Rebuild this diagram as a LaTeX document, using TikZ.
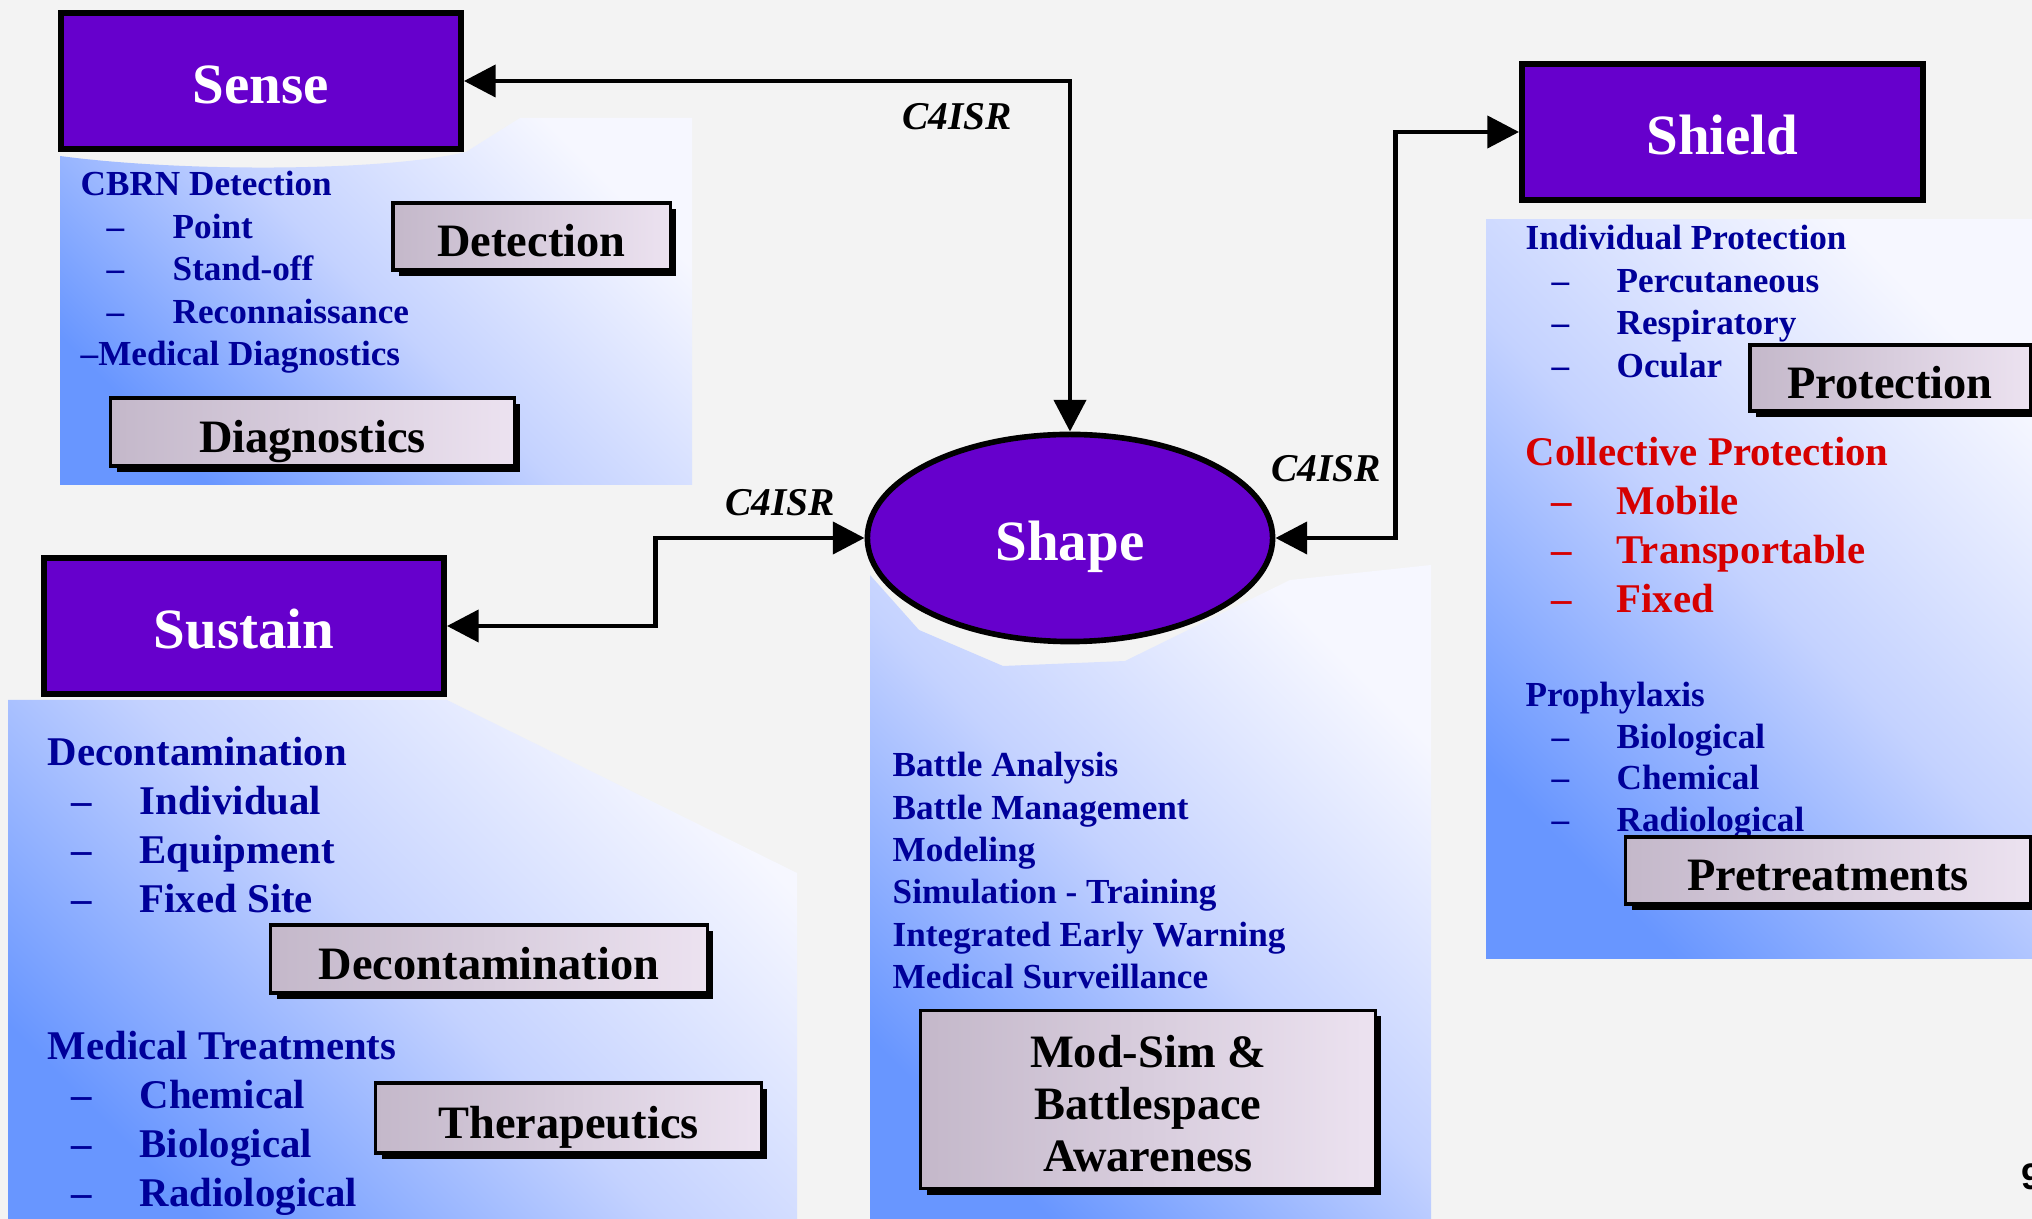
\documentclass[tikz,border=0pt]{standalone}
\usepackage{fontspec}
\setmainfont{Liberation Serif}
\newfontfamily\pagefont{Liberation Sans}
\usetikzlibrary{arrows.meta,shapes.geometric,shadows}

\definecolor{boxpurple}{RGB}{102,0,204}
\definecolor{listblue}{RGB}{0,0,153}
\definecolor{listred}{RGB}{214,0,0}
\definecolor{panelblue}{RGB}{104,150,255}
\definecolor{panelmid}{RGB}{196,210,255}
\definecolor{panelwhite}{RGB}{246,247,255}
\definecolor{lavdark}{RGB}{196,184,202}
\definecolor{lavlight}{RGB}{236,226,240}
\definecolor{paper}{RGB}{243,243,243}

\newcommand{\headfont}{\fontsize{16.2}{19}\selectfont\bfseries}
\newcommand{\labelfont}{\fontsize{13.2}{14.7}\selectfont\bfseries}
\newcommand{\listfont}{\fontsize{10}{12}\selectfont\bfseries}
\newcommand{\bigfont}{\fontsize{11.6}{13.9}\selectfont\bfseries}
\newcommand{\linkfont}{\fontsize{11.2}{13}\selectfont\bfseries\itshape}

\tikzset{
  mainbox/.style={draw=black, line width=1.6pt, fill=boxpurple, text=white, font=\headfont,
    text height=12.6pt, text depth=0pt},
  panel/.style={top color=panelblue, bottom color=panelwhite, middle color=panelmid, shading angle=135},
  tagbase/.style={draw=black, line width=0.9pt, left color=lavdark, right color=lavlight, font=\labelfont,
    drop shadow={shadow xshift=0.06cm, shadow yshift=-0.06cm, fill=black, opacity=1}},
  tagbox/.style={tagbase, text height=11.4pt, text depth=0pt},
  listtxt/.style={inner sep=0pt, anchor=base west, text=listblue, font=\listfont},
  bigtxt/.style={listtxt, font=\bigfont},
  redtxt/.style={bigtxt, text=listred},
  link/.style={line width=1.4pt, {Triangle[length=9pt,width=9pt]}-{Triangle[length=9pt,width=9pt]}},
  linklabel/.style={font=\linkfont, inner sep=0pt}
}

\begin{document}
\begin{tikzpicture}[x=0.01cm, y=-0.01cm]
\useasboundingbox (0,0) rectangle (2032,1219);
\fill[paper] (0,0) rectangle (2032,1219);

% shaded panels behind the boxes
\shade[panel] (60,156) .. controls (180,172) and (380,172) .. (466,152) -- (520,118) -- (692,118) -- (692,485) -- (60,485) -- cycle;
\shade[panel] (1486,220) rectangle (2032,959);
\shade[panel] (870,575) -- (919,630) -- (1003,666) -- (1125,661) -- (1290,580) -- (1431,565) -- (1431,1219) -- (870,1219) -- cycle;
\shade[panel] (8,700) -- (447,700) -- (797,873) -- (797,1219) -- (8,1219) -- cycle;

% main boxes
\node[mainbox, minimum width=4.00cm, minimum height=1.36cm] (sense) at (261,81) {Sense};
\node[mainbox, minimum width=4.01cm, minimum height=1.36cm] (shield) at (1722.5,132) {Shield};
\node[mainbox, minimum width=4.00cm, minimum height=1.36cm] (sustain) at (244,626) {Sustain};
\node[mainbox, ellipse, minimum width=4.05cm, minimum height=2.07cm] (hub) at (1070,538) {Shape};

% C4ISR links
\draw[link] (hub.north) |- (sense.east);
\draw[link] (hub.east) -- ++(120,0) |- (shield.west);
\draw[link] (hub.west) -- ++(-209,0) |- (sustain.east);
\node[linklabel] (c4top) at (957,117) {C4ISR};
\node[linklabel] (c4right) at (1326,469) {C4ISR};
\node[linklabel] (c4left) at (780,503) {C4ISR};

% Sense
\node[listtxt] (cbrn) at (80,196) {CBRN Detection};
\foreach \txt [count=\i] in {Point,Stand-off,Reconnaissance} {
  \node[listtxt] (sdash\i) at (106,{196+42.5*\i}) {\textendash};
  \node[listtxt] (sitem\i) at (172,{196+42.5*\i}) {\txt};
}
\node[listtxt] (meddiag) at (80,366) {\textendash Medical Diagnostics};
\node[tagbox, minimum width=2.77cm, minimum height=0.67cm] (detect) at (531.5,236.5) {Detection};
\node[tagbox, minimum width=4.03cm, minimum height=0.68cm] (diag) at (312.5,432) {Diagnostics};

% Shield
\node[listtxt] (indiv) at (1525,250) {Individual Protection};
\foreach \txt [count=\i] in {Percutaneous,Respiratory,Ocular} {
  \node[listtxt] (idash\i) at (1551,{250+42.4*\i}) {\textendash};
  \node[listtxt] (iitem\i) at (1616,{250+42.4*\i}) {\txt};
}
\node[redtxt] (collect) at (1525,466) {Collective Protection};
\foreach \txt [count=\i] in {Mobile,Transportable,Fixed} {
  \node[redtxt] (cdash\i) at (1551,{466+49*\i}) {\textendash};
  \node[redtxt] (citem\i) at (1616,{466+49*\i}) {\txt};
}
\node[listtxt] (prophy) at (1525,707) {Prophylaxis};
\foreach \txt [count=\i] in {Biological,Chemical,Radiological} {
  \node[listtxt] (pdash\i) at (1551,{707+41.5*\i}) {\textendash};
  \node[listtxt] (pitem\i) at (1616,{707+41.5*\i}) {\txt};
}
\node[tagbox, minimum width=2.80cm, minimum height=0.66cm] (protect) at (1890,378) {Protection};
\node[tagbox, minimum width=4.04cm, minimum height=0.67cm] (pretreat) at (1828,870.5) {Pretreatments};

% Shape
\foreach \txt [count=\i from 0] in {Battle Analysis,Battle Management,Modeling,Simulation - Training,Integrated Early Warning,Medical Surveillance}
  \node[listtxt] (shline\i) at (892,{777+42.3*\i}) {\txt};
\node[tagbase, minimum width=4.54cm, minimum height=1.73cm] (modsim) at (1148,1099.5)
  {\raisebox{-2.7pt}[\height][\depth]{\begin{tabular}{@{}c@{}}Mod-Sim \&\\Battlespace\\Awareness\end{tabular}}};

% Sustain
\node[bigtxt] (decohead) at (47,766) {Decontamination};
\foreach \txt [count=\i] in {Individual,Equipment,Fixed Site} {
  \node[bigtxt] (ddash\i) at (71,{766+49*\i}) {\textendash};
  \node[bigtxt] (ditem\i) at (139,{766+49*\i}) {\txt};
}
\node[bigtxt] (medtreat) at (47,1060) {Medical Treatments};
\foreach \txt [count=\i] in {Chemical,Biological,Radiological} {
  \node[bigtxt] (mdash\i) at (71,{1060+49*\i}) {\textendash};
  \node[bigtxt] (mitem\i) at (139,{1060+49*\i}) {\txt};
}
\node[tagbox, minimum width=4.36cm, minimum height=0.68cm] (decon) at (489,959) {Decontamination};
\node[tagbox, minimum width=3.85cm, minimum height=0.70cm] (thera) at (568.5,1118) {Therapeutics};

% page number
\node[inner sep=0pt, anchor=base west, font=\pagefont\bfseries\fontsize{10.5}{12}\selectfont] (pagenum) at (2021,1190) {9};
\end{tikzpicture}
\end{document}
